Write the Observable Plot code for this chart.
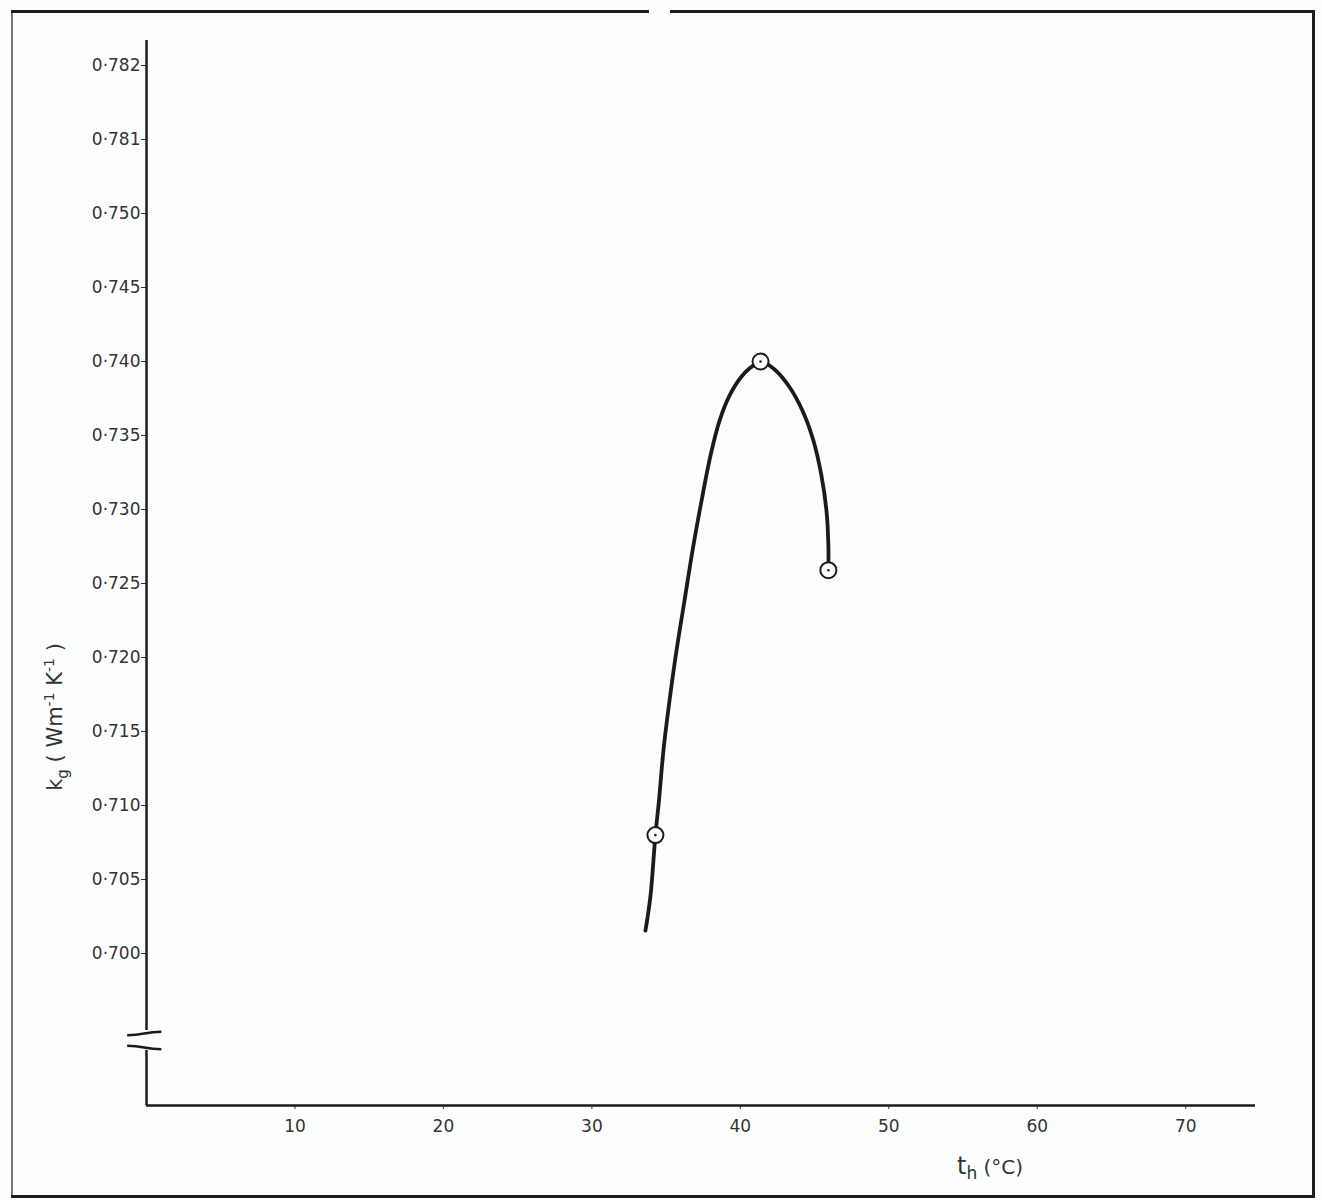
<!DOCTYPE html>
<html><head><meta charset="utf-8">
<script src="https://cdn.jsdelivr.net/npm/d3@7"></script>
<script src="https://cdn.jsdelivr.net/npm/@observablehq/plot@0.6"></script>
<style>
body{margin:0;background:#fff;}
#wrap{position:relative;width:1322px;height:1200px;background:#fcfdfd;overflow:hidden;}
.b{position:absolute;background:#1e1e1e;}
#plot{position:absolute;left:0;top:0;}
#plot svg{background:transparent;}
</style></head><body>
<div id="wrap">
<div class="b" style="left:11px;top:10px;width:638px;height:3px"></div>
<div class="b" style="left:670px;top:10px;width:645px;height:3px"></div>
<div class="b" style="left:1312px;top:10px;width:3px;height:1188px"></div>
<div class="b" style="left:11px;top:10px;width:2px;height:1188px;opacity:.6"></div>
<div class="b" style="left:11px;top:1195px;width:1304px;height:3px"></div>
<div id="plot"></div>
</div>
<script>
// temperature t_h (°C) along the drawn curve
const curveT = [33.61, 33.95, 34.28, 34.52, 34.82, 35.23, 35.70, 36.24, 36.78, 37.39, 37.99, 38.60, 39.27, 40.08, 40.69, 41.36, 42.23, 43.24, 44.18, 44.92, 45.46, 45.80, 45.93, 45.93];
// conductivity k_g along the drawn curve
const curveK = [0.70155, 0.70392, 0.70800, 0.71034, 0.71372, 0.71709, 0.72047, 0.72385, 0.72723, 0.73061, 0.73365, 0.73601, 0.73770, 0.73899, 0.73959, 0.74000, 0.73953, 0.73838, 0.73669, 0.73466, 0.73230, 0.72993, 0.72757, 0.72590];
// measured points (circles)
const pointT = [34.28, 41.36, 45.93];
const pointK = [0.70800, 0.74000, 0.72590];
// axes
const xTicks = [10, 20, 30, 40, 50, 60, 70];
const xDomain = [0, 74.7];
const yDomain = [0.68973, 0.76169];
const yTicks = [0.700, 0.705, 0.710, 0.715, 0.720, 0.725, 0.730, 0.735, 0.740, 0.745, 0.750, 0.755, 0.760];
const yTickLabels = ["0·700", "0·705", "0·710", "0·715", "0·720", "0·725", "0·730", "0·735", "0·740", "0·745", "0·750", "0·781", "0·782"];
// y axis drawn in two pieces around the scale break
const yAxisFrom = [0.69480, 0.68973];
const yAxisTo = [0.76169, 0.69345];
const breakK = [0.69460, 0.69365];

const curve = curveT.map((t, i) => ({t, k: curveK[i]}));
const points = pointT.map((t, i) => ({t, k: pointK[i]}));
const segs = yAxisFrom.map((f, i) => ({from: f, to: yAxisTo[i]}));
const breaks = breakK.map((k, i) => ({k, dir: i === 0 ? 1 : -1}));

const ink = "#1b1b1b";
const chart = Plot.plot({
  width: 1322, height: 1200,
  marginLeft: 146, marginRight: 67, marginTop: 40, marginBottom: 95,
  style: {fontFamily: "'DejaVu Sans', sans-serif", fontSize: "17px", color: "#333", background: "transparent"},
  x: {domain: xDomain, ticks: xTicks, tickSize: 4, tickPadding: 10, label: null},
  y: {domain: yDomain, ticks: yTicks, tickSize: 5, tickPadding: 1, label: null,
      tickFormat: d => yTickLabels[yTicks.findIndex(v => Math.abs(v - d) < 1e-6)]},
  marks: [
    Plot.ruleX(segs, {x: 0, y1: "from", y2: "to", stroke: ink, strokeWidth: 2.5}),
    Plot.ruleY([yDomain[0]], {x1: xDomain[0], x2: xDomain[1], stroke: ink, strokeWidth: 2.5}),
    Plot.link(breaks, {x1: -1.3, x2: 1.0, y1: d => d.k - d.dir * 0.00012, y2: d => d.k + d.dir * 0.00012, curve: "bump-x", stroke: ink, strokeWidth: 2.5}),
    Plot.line(curve, {x: "t", y: "k", curve: "catmull-rom", stroke: ink, strokeWidth: 3.8, strokeLinecap: "round", strokeLinejoin: "round"}),
    Plot.dot(points, {x: "t", y: "k", r: 8, stroke: ink, strokeWidth: 2, fill: "#fcfdfd"}),
    Plot.dot(points, {x: "t", y: "k", r: 1.3, fill: ink})
  ]
});
document.getElementById("plot").appendChild(chart);

const svg = d3.select(chart);
const yl = svg.append("text")
  .attr("transform", "translate(62,717) rotate(-90)")
  .attr("text-anchor", "middle")
  .attr("fill", "#333")
  .style("font-family", "'DejaVu Sans', sans-serif")
  .style("font-size", "21px");
yl.append("tspan").text("k");
yl.append("tspan").attr("dy", 6).attr("font-size", 15).text("g");
yl.append("tspan").attr("dy", -6).text(" ( Wm");
yl.append("tspan").attr("dy", -8).attr("font-size", 14).text("-1");
yl.append("tspan").attr("dy", 8).text(" K");
yl.append("tspan").attr("dy", -8).attr("font-size", 14).text("-1");
yl.append("tspan").attr("dy", 8).text(" )");

const xl = svg.append("text")
  .attr("x", 957).attr("y", 1174)
  .attr("text-anchor", "start")
  .attr("fill", "#333")
  .style("font-family", "'DejaVu Sans', sans-serif")
  .style("font-size", "24px");
xl.append("tspan").text("t");
xl.append("tspan").attr("dy", 5).attr("font-size", 17).text("h");
xl.append("tspan").attr("dy", -5).attr("font-size", 20).text(" (°C)");
</script>
</body></html>
